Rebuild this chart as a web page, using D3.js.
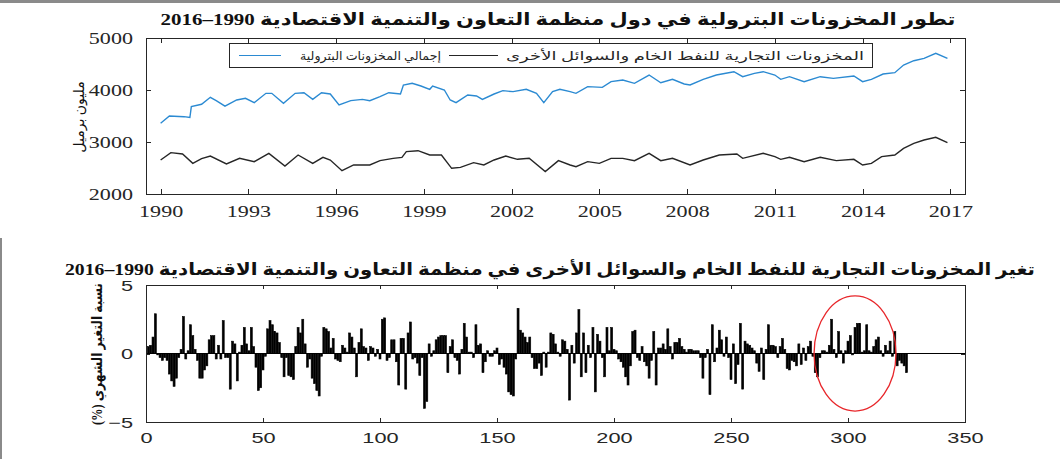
<!DOCTYPE html>
<html><head><meta charset="utf-8">
<script src="https://cdn.jsdelivr.net/npm/d3@7/dist/d3.min.js"></script>
<style>body{margin:0;background:#fff;overflow:hidden}</style>
</head><body>
<svg id="c" width="1060" height="459"></svg>
<script>
// ---------- DATA ----------
const titleTop = "تطور المخزونات البترولية في دول منظمة التعاون والتنمية الاقتصادية 1990–2016";
const titleBottom = "تغير المخزونات التجارية للنفط الخام والسوائل الأخرى في منظمة التعاون والتنمية الاقتصادية 1990–2016";
const yLabelTop = "مليون برميل";
const yLabelBottom = "نسبة التغير الشهري (%)";
const legendCommercial = "المخزونات التجارية للنفط الخام والسوائل الأخرى";
const legendTotal = "إجمالي المخزونات البترولية";

const yearTicks = [1990,1993,1996,1999,2002,2005,2008,2011,2014,2017];
const stockTicks = [2000,3000,4000,5000];
const indexTicks = [0,50,100,150,200,250,300,350];
const changeTicks = [-5,0,5];

const totalYears = [1990.0,1990.3,1990.8,1991.0,1991.05,1991.4,1991.7,1991.9,1992.2,1992.6,1992.9,1993.2,1993.6,1993.8,1994.2,1994.6,1994.9,1995.2,1995.5,1995.8,1996.1,1996.5,1996.9,1997.15,1997.5,1997.8,1998.2,1998.3,1998.6,1998.9,1999.2,1999.3,1999.7,1999.9,2000.1,2000.5,2000.8,2001.0,2001.4,2001.7,2002.05,2002.5,2002.85,2003.1,2003.4,2003.65,2004.0,2004.2,2004.6,2005.1,2005.4,2005.8,2006.2,2006.7,2007.1,2007.5,2007.9,2008.1,2008.55,2009.0,2009.6,2009.9,2010.3,2010.6,2011.0,2011.2,2011.5,2012.0,2012.55,2013.0,2013.7,2014.0,2014.3,2014.7,2015.1,2015.4,2015.75,2016.1,2016.5,2016.9];
const totalValues = [3360,3500,3487,3470,3680,3725,3860,3795,3690,3808,3840,3756,3936,3936,3744,3936,3948,3820,3948,3923,3711,3795,3820,3795,3872,3948,3923,4096,4128,4077,4013,4077,4000,3808,3756,3904,3885,3820,3923,3987,3968,4013,3936,3756,3968,4013,3968,3936,4064,4051,4160,4192,4128,4288,4140,4205,4115,4096,4205,4288,4352,4256,4320,4352,4288,4205,4256,4160,4256,4224,4269,4160,4205,4307,4333,4480,4563,4609,4705,4609];

const commYears = [1990.0,1990.35,1990.75,1991.1,1991.4,1991.7,1992.25,1992.7,1993.2,1993.7,1994.25,1994.7,1995.2,1995.55,1995.8,1996.2,1996.6,1997.15,1997.5,1997.95,1998.25,1998.4,1998.8,1999.2,1999.6,1999.95,2000.25,2000.7,2001.05,2001.4,2001.8,2002.2,2002.6,2003.15,2003.6,2004.0,2004.2,2004.6,2005.0,2005.4,2005.8,2006.2,2006.7,2007.1,2007.5,2008.1,2008.55,2009.1,2009.7,2009.9,2010.6,2011.0,2011.2,2011.5,2012.0,2012.55,2013.1,2013.7,2014.0,2014.3,2014.65,2015.1,2015.4,2015.75,2016.1,2016.5,2016.9];
const commValues = [2654,2795,2770,2590,2680,2730,2577,2686,2622,2782,2538,2750,2590,2705,2654,2448,2558,2558,2641,2686,2705,2814,2833,2750,2750,2494,2513,2603,2558,2654,2730,2667,2686,2430,2641,2558,2526,2622,2590,2686,2686,2641,2782,2641,2686,2558,2654,2750,2770,2686,2782,2718,2667,2705,2622,2705,2641,2667,2558,2590,2718,2750,2878,2974,3038,3090,2987];

// monthly % change, month number 1..325
const changeValues = [
 0.5,0.6,1.2,2.9,-0.1,-0.3,-0.5,-0.3,-0.5,-1.5,
 -2.0,-2.4,-1.8,-0.3,0.3,2.7,-0.4,0.2,2.1,1.3,
 0.3,-0.5,-1.8,-1.8,-1.2,-0.9,1.0,1.3,1.3,-0.4,
 0.6,-0.4,2.4,-0.3,-0.3,-2.6,0.9,0.7,-2.0,0.1,
 0.6,1.9,0.7,0.2,1.9,0.5,-1.0,-2.7,-2.5,-1.2,
 -0.2,1.8,2.4,2.1,1.6,1.5,0.8,-0.3,-1.7,-0.3,
 -1.6,-1.7,-1.9,0.5,1.9,1.5,2.5,0.7,-1.0,-0.4,
 -1.8,-2.2,-2.7,-3.1,-0.2,1.9,1.8,1.6,0.4,1.1,
 -0.4,-0.5,-0.6,0.6,0.4,0.1,1.5,1.2,0.4,-1.7,
 0.8,1.8,0.5,0.4,-0.5,0.5,0.4,-0.2,0.3,-0.4,
 2.5,2.6,-0.5,-0.3,1.0,1.0,-0.6,-2.3,1.1,1.1,
 -2.6,1.5,2.3,-0.4,-0.3,-0.7,-1.6,-0.3,-4.0,-3.5,
 0.7,-0.2,0.2,1.0,1.2,1.3,1.3,1.3,-1.4,0.5,
 1.0,-0.3,-0.5,-1.5,0.3,2.2,1.2,0.1,0.1,-0.3,
 2.1,0.6,0.7,-1.4,-0.6,0.2,-0.2,-0.2,0.2,0.4,
 -0.8,-0.4,-1.0,-1.5,-2.8,-3.0,-3.1,-0.4,3.3,1.7,
 1.5,1.2,0.8,1.2,-0.3,-1.1,-1.1,-0.7,-1.6,0.1,
 -1.0,0.1,1.5,1.4,0.7,0.1,-0.2,1.0,0.9,0.3,
 -3.4,0.6,-0.7,1.5,3.2,-1.7,1.5,-1.4,0.6,-0.3,
 1.9,-2.8,1.4,0.9,-0.3,-1.7,1.9,0.2,1.9,0.3,
 0.2,-0.4,-0.6,-1.0,-1.7,-2.3,-0.9,1.6,1.7,-0.3,
 -0.5,0.5,-0.6,-0.9,-1.8,-0.5,1.6,-2.3,0.4,0.4,
 0.7,0.3,1.8,0.5,-0.4,0.8,0.8,1.1,0.5,0.3,
 0.1,0.3,0.3,0.2,0.2,0.2,-0.3,-1.8,-0.3,0.3,
 -3.0,2.1,-0.6,0.4,1.7,1.0,-0.2,1.2,-0.3,-1.9,
 0.7,-2.2,-0.8,2.2,-2.6,0.9,0.7,0.6,0.4,0.2,
 -0.7,-1.3,0.4,-1.9,0.3,2.1,0.6,0.6,0.5,-0.3,
 0.5,1.1,0.3,-1.1,-1.2,-0.5,-0.6,-0.9,0.7,-0.8,
 0.4,-0.5,0.5,0.9,-0.2,-1.4,-1.7,-0.3,0.2,0.2,
 0.1,0.6,2.5,0.3,-0.3,1.6,0.2,-0.7,0.2,0.9,
 1.3,-0.1,1.9,2.2,2.2,0.1,0.2,2.1,0.2,0.1,
 0.5,1.0,1.2,0.2,-0.2,0.6,0.2,0.9,-0.2,1.6,
 -0.9,-0.5,-0.7,-0.9,-1.4
];
// highlighted span (month index centre and half-width) and value half-height
const highlight = {cx: 303, halfW: 17.5, halfH: 4.2};

// ---------- DRAW ----------
const svg = d3.select("#c");
const axisColor = "#262626";
const serif = "'Liberation Serif','DejaVu Serif',serif";
const sans = "'Liberation Sans',Arial,sans-serif";
const arab = "'Liberation Serif','DejaVu Sans',sans-serif";

// frame of the screenshot
svg.append("line").attr("x1",0).attr("x2",1060).attr("y1",1.5).attr("y2",1.5)
  .attr("stroke","#8a8a8a").attr("stroke-width",3);
svg.append("line").attr("x1",1).attr("x2",1).attr("y1",238).attr("y2",459)
  .attr("stroke","#8a8a8a").attr("stroke-width",2);

function boxAxes(g, x, y, xt, yt, fmtX, fmtY, tick, labelFont, labelSize, sx, xLabelDy, yLabelDx){
  const [x0,x1] = x.range(), [y0,y1] = y.range();
  const bottom = g.append("g").attr("transform",`translate(0,${y0})`)
    .call(d3.axisBottom(x).tickValues(xt).tickSizeInner(-tick).tickSizeOuter(0).tickFormat(fmtX));
  const top = g.append("g").attr("transform",`translate(0,${y1})`)
    .call(d3.axisTop(x).tickValues(xt).tickSizeInner(-tick).tickSizeOuter(0).tickFormat(""));
  const left = g.append("g").attr("transform",`translate(${x0},0)`)
    .call(d3.axisLeft(y).tickValues(yt).tickSizeInner(-tick).tickSizeOuter(0).tickFormat(fmtY));
  const right = g.append("g").attr("transform",`translate(${x1},0)`)
    .call(d3.axisRight(y).tickValues(yt).tickSizeInner(-tick).tickSizeOuter(0).tickFormat(""));
  [bottom,top,left,right].forEach(a=>{
    a.selectAll("path,line").attr("stroke",axisColor).attr("stroke-width",1).attr("shape-rendering","crispEdges");
  });
  bottom.selectAll("text").attr("y",xLabelDy).attr("dy",null)
    .attr("font-family",labelFont).attr("font-size",labelSize).attr("fill",axisColor)
    .attr("transform",`scale(${sx},1)`);
  left.selectAll("text").attr("x",0).attr("dy","0.34em")
    .attr("font-family",labelFont).attr("font-size",labelSize).attr("fill",axisColor)
    .attr("transform",`translate(${-yLabelDx},0) scale(${sx},1)`);
}

// ---- top panel ----
const xT = d3.scaleLinear().domain([1989.5,2017.5]).range([146,965]);
const yT = d3.scaleLinear().domain([2000,5000]).range([194,38]);
const gT = svg.append("g");

const lineT = d3.line().x(d=>xT(d[0])).y(d=>yT(d[1]));
gT.append("path").datum(totalYears.map((t,i)=>[t,totalValues[i]]))
  .attr("d",lineT).attr("fill","none").attr("stroke","#2b8ad2").attr("stroke-width",1.4);
gT.append("path").datum(commYears.map((t,i)=>[t,commValues[i]]))
  .attr("d",lineT).attr("fill","none").attr("stroke","#262626").attr("stroke-width",1.4);

boxAxes(gT, xT, yT, yearTicks, stockTicks, d3.format("d"), d3.format("d"), 5, serif, 17, 1.3, 23, 13);

// legend
const leg = gT.append("g");
leg.append("rect").attr("x",229.5).attr("y",43.5).attr("width",643).attr("height",24)
  .attr("fill","#fff").attr("stroke",axisColor).attr("stroke-width",1);
leg.append("line").attr("x1",239).attr("x2",281).attr("y1",55.5).attr("y2",55.5)
  .attr("stroke","#2b8ad2").attr("stroke-width",1.2);
leg.append("line").attr("x1",449).attr("x2",498).attr("y1",55.5).attr("y2",55.5)
  .attr("stroke","#262626").attr("stroke-width",1.2);
leg.append("text").text(legendCommercial).attr("x",864).attr("y",60)
  .attr("direction","rtl").attr("text-anchor","start").attr("font-family",arab).attr("font-size",12)
  .attr("fill",axisColor).attr("textLength",358).attr("lengthAdjust","spacingAndGlyphs");
leg.append("text").text(legendTotal).attr("x",441).attr("y",60)
  .attr("direction","rtl").attr("text-anchor","start").attr("font-family",arab).attr("font-size",12)
  .attr("fill",axisColor).attr("textLength",141).attr("lengthAdjust","spacingAndGlyphs");

// titles / labels
svg.append("text").text(titleTop).attr("x",558).attr("y",25)
  .attr("direction","rtl").attr("text-anchor","middle").attr("font-family",arab)
  .attr("font-weight","bold").attr("font-size",17).attr("fill","#111")
  .attr("textLength",795).attr("lengthAdjust","spacingAndGlyphs");
svg.append("text").text(yLabelTop)
  .attr("transform","translate(84,117) rotate(-90)")
  .attr("direction","rtl").attr("text-anchor","middle").attr("font-family",arab)
  .attr("font-size",14).attr("fill","#111");

// ---- bottom panel ----
const xB = d3.scaleLinear().domain([0,350]).range([146,965]);
const yB = d3.scaleLinear().domain([-5,5]).range([422,285]);
const gB = svg.append("g");
const bw = xB(0.85)-xB(0);
gB.selectAll("rect.bar").data(changeValues).join("rect").attr("class","bar")
  .attr("x",(d,i)=>xB(i+1)-bw/2).attr("width",bw)
  .attr("y",d=>yB(Math.max(0,d))).attr("height",d=>Math.abs(yB(d)-yB(0)))
  .attr("fill","#000").attr("stroke","#000").attr("stroke-width",0.6);
gB.append("line").attr("x1",xB(0)).attr("x2",xB(350)).attr("y1",yB(0)).attr("y2",yB(0))
  .attr("stroke","#000").attr("stroke-width",1).attr("shape-rendering","crispEdges");

boxAxes(gB, xB, yB, indexTicks, changeTicks, d3.format("d"), d3.format("d"), 4, sans, 15, 1.45, 21, 13);

gB.append("ellipse")
  .attr("cx",xB(highlight.cx)).attr("cy",yB(0))
  .attr("rx",xB(highlight.cx+highlight.halfW)-xB(highlight.cx))
  .attr("ry",yB(0)-yB(highlight.halfH))
  .attr("fill","none").attr("stroke","#e8262a").attr("stroke-width",1.3);

svg.append("text").text(titleBottom).attr("x",550).attr("y",275)
  .attr("direction","rtl").attr("text-anchor","middle").attr("font-family",arab)
  .attr("font-weight","bold").attr("font-size",17).attr("fill","#111")
  .attr("textLength",970).attr("lengthAdjust","spacingAndGlyphs");
svg.append("text").text(yLabelBottom)
  .attr("transform","translate(102,354) rotate(-90)")
  .attr("direction","rtl").attr("text-anchor","middle").attr("font-family",arab)
  .attr("font-weight","bold").attr("font-size",14).attr("fill","#111")
  .attr("textLength",142).attr("lengthAdjust","spacingAndGlyphs");
</script>
</body></html>
